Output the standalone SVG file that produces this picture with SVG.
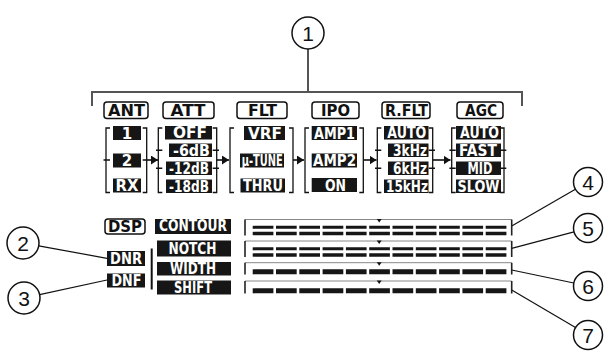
<svg xmlns="http://www.w3.org/2000/svg" width="605" height="352" viewBox="0 0 605 352">
<defs>
<style>
text{font-family:"DejaVu Sans","Liberation Sans",Arial,sans-serif;font-weight:bold}
.tab rect{fill:#fff;stroke:#111;stroke-width:1.5}
.tab text{font-size:16px;fill:#111;text-anchor:middle}
.bx rect{fill:#161616}
.bx text{font-size:15px;fill:#fff}
.br{fill:none;stroke:#111;stroke-width:1.3}
.ld{fill:none;stroke:#111;stroke-width:1.2}
.ar{fill:none;stroke:#111;stroke-width:1.6}
.gl{fill:none;stroke:#555;stroke-width:2}
.ci circle{fill:#fff;stroke:#111;stroke-width:1.5}
.ci text{font-family:"Liberation Sans",Arial,sans-serif;font-weight:normal;font-size:21px;fill:#111;text-anchor:middle}
.bar .tl{stroke:#888;stroke-width:1;fill:none}
.bar .vl{stroke:#222;stroke-width:1.6;fill:none}
.bar .d{stroke:#161616;stroke-dasharray:20.7 2.6;fill:none}
.tri{fill:#111}
</style>
<marker id="ah" markerUnits="userSpaceOnUse" markerWidth="8" markerHeight="10" refX="7" refY="4.5" orient="auto">
<path d="M0,0 L7,4.5 L0,9 z" fill="#111"/>
</marker>
</defs>
<rect width="605" height="352" fill="#fff"/>

<g id="connectors">
<path class="gl" d="M308,49 V92 M92,106 V92 H522 V106"/>
<line class="ar" x1="146.7" y1="160" x2="158" y2="160" marker-end="url(#ah)"/>
<line class="ar" x1="216.7" y1="160" x2="229" y2="160" marker-end="url(#ah)"/>
<line class="ar" x1="293" y1="160" x2="304" y2="160" marker-end="url(#ah)"/>
<line class="ar" x1="363.3" y1="160" x2="376.5" y2="160" marker-end="url(#ah)"/>
<line class="ar" x1="432.7" y1="160" x2="450.5" y2="160" marker-end="url(#ah)"/>
<line class="ld" x1="38.7" y1="245.9" x2="107" y2="258.3"/>
<line class="ld" x1="39.6" y1="294.6" x2="107" y2="280"/>
<line class="ld" x1="511.7" y1="226" x2="575.4" y2="189.3"/>
<line class="ld" x1="511.7" y1="248.3" x2="574" y2="231.9"/>
<line class="ld" x1="511.7" y1="270" x2="573.8" y2="283"/>
<line class="ld" x1="511.7" y1="290" x2="575.5" y2="327.6"/>
<line x1="151.7" y1="248.5" x2="151.7" y2="289.5" stroke="#111" stroke-width="2"/>
</g>

<g id="callout1" class="ci"><circle cx="308" cy="33" r="16"/><text x="308" y="40.5">1</text></g>
<g id="callout2" class="ci"><circle cx="23" cy="243" r="16"/><text x="23" y="250.5">2</text></g>
<g id="callout3" class="ci"><circle cx="24" cy="298" r="16"/><text x="24" y="305.5">3</text></g>
<g id="callout4" class="ci"><circle cx="588" cy="182" r="14.5"/><text x="588" y="189.5">4</text></g>
<g id="callout5" class="ci"><circle cx="588" cy="228" r="14.5"/><text x="588" y="235.5">5</text></g>
<g id="callout6" class="ci"><circle cx="588" cy="286" r="14.5"/><text x="588" y="293.5">6</text></g>
<g id="callout7" class="ci"><circle cx="588" cy="335" r="14.5"/><text x="588" y="342.5">7</text></g>

<g id="col-ant">
<g class="tab"><rect x="104" y="102" width="44" height="16.5" rx="3"/><text x="126.5" y="116.4" textLength="37" lengthAdjust="spacingAndGlyphs">ANT</text></g>
<path class="br" d="M110,128 H106 V192.5 H110 M103.5,160 H110 M142.7,128 H146.7 V192.5 H142.7 M142.7,160 H146.7"/>
<g class="bx">
<rect x="113" y="126" width="28" height="14"/><text x="127" y="138.5" text-anchor="middle">1</text>
<rect x="113" y="153.5" width="28" height="14"/><text x="127" y="166" text-anchor="middle">2</text>
<rect x="113" y="178.5" width="28" height="14"/><text x="127" y="191" text-anchor="middle" textLength="23" lengthAdjust="spacingAndGlyphs">RX</text>
</g>
</g>

<g id="col-att">
<g class="tab"><rect x="163" y="102" width="51" height="16.5" rx="3"/><text x="188" y="116.4" textLength="35" lengthAdjust="spacingAndGlyphs">ATT</text></g>
<path class="br" d="M162.3,128 H158.3 V192.5 H162.3 M156,150.25 H162.3 M156,168.25 H162.3 M212.7,128 H216.7 V192.5 H212.7 M212.7,150.25 H219 M212.7,168.25 H219"/>
<g class="bx">
<rect x="165" y="126" width="47" height="13.5"/><text x="173" y="138.2" textLength="34" lengthAdjust="spacingAndGlyphs">OFF</text>
<rect x="169" y="143.5" width="43" height="13.5"/><text x="173" y="155.7" textLength="37" lengthAdjust="spacingAndGlyphs">-6dB</text>
<rect x="166" y="161.5" width="46" height="13.5"/><text x="169" y="173.7" textLength="40" lengthAdjust="spacingAndGlyphs">-12dB</text>
<rect x="166" y="179.5" width="46" height="13.5"/><text x="169" y="191.7" textLength="40" lengthAdjust="spacingAndGlyphs">-18dB</text>
</g>
</g>

<g id="col-flt">
<g class="tab"><rect x="237" y="102" width="50" height="16.5" rx="3"/><text x="262.5" y="116.4" textLength="29" lengthAdjust="spacingAndGlyphs">FLT</text></g>
<path class="br" d="M234,128 H230 V192.5 H234 M289,128 H293 V192.5 H289"/>
<g class="bx">
<rect x="244" y="126" width="41" height="14"/><text x="248" y="138.5" textLength="34" lengthAdjust="spacingAndGlyphs">VRF</text>
<rect x="240" y="153.5" width="44" height="14"/><text x="241.7" y="165.6" font-size="14" textLength="41" lengthAdjust="spacingAndGlyphs">μ-TUNE</text>
<rect x="240.5" y="178.5" width="44.5" height="14"/><text x="243" y="191" textLength="40" lengthAdjust="spacingAndGlyphs">THRU</text>
</g>
</g>

<g id="col-ipo">
<g class="tab"><rect x="312" y="102" width="47" height="16.5" rx="3"/><text x="335.5" y="116.4" textLength="29" lengthAdjust="spacingAndGlyphs">IPO</text></g>
<path class="br" d="M309,128 H305 V192.5 H309 M359.3,128 H363.3 V192.5 H359.3"/>
<g class="bx">
<rect x="311.7" y="126" width="45.3" height="14"/><text x="314" y="138.5" textLength="41" lengthAdjust="spacingAndGlyphs">AMP1</text>
<rect x="311.7" y="153.5" width="45.3" height="14"/><text x="313" y="166" textLength="43" lengthAdjust="spacingAndGlyphs">AMP2</text>
<rect x="311.7" y="178" width="45.3" height="14"/><text x="335.5" y="190.5" text-anchor="middle" textLength="21" lengthAdjust="spacingAndGlyphs">ON</text>
</g>
</g>

<g id="col-rflt">
<g class="tab"><rect x="382" y="102" width="48" height="16.5" rx="3"/><text x="406.5" y="116.4" textLength="43" lengthAdjust="spacingAndGlyphs">R.FLT</text></g>
<path class="br" d="M381.3,128 H377.3 V192.5 H381.3 M375,150.25 H381.3 M375,168.25 H381.3 M428.7,128 H432.7 V192.5 H428.7 M428.7,150.25 H435 M428.7,168.25 H435"/>
<g class="bx">
<rect x="384" y="126" width="44.5" height="13.5"/><text x="387.3" y="138.2" textLength="39" lengthAdjust="spacingAndGlyphs">AUTO</text>
<rect x="388" y="143.5" width="40.5" height="13.5"/><text x="393" y="155.7" textLength="34" lengthAdjust="spacingAndGlyphs">3kHz</text>
<rect x="388" y="161.5" width="40.5" height="13.5"/><text x="393" y="173.7" textLength="34" lengthAdjust="spacingAndGlyphs">6kHz</text>
<rect x="384" y="179.5" width="44.5" height="13.5"/><text x="386" y="191.7" textLength="42" lengthAdjust="spacingAndGlyphs">15kHz</text>
</g>
</g>

<g id="col-agc">
<g class="tab"><rect x="457" y="102" width="46" height="16.5" rx="3"/><text x="481" y="116.4" textLength="32" lengthAdjust="spacingAndGlyphs">AGC</text></g>
<path class="br" d="M455.7,128 H451.7 V192.5 H455.7 M449.4,150.25 H455.7 M449.4,168.25 H455.7 M500,128 H504 V192.5 H500 M500,150.25 H506.3 M500,168.25 H506.3"/>
<g class="bx">
<rect x="456" y="126" width="45" height="13.5"/><text x="460" y="138.2" textLength="39" lengthAdjust="spacingAndGlyphs">AUTO</text>
<rect x="456" y="143.5" width="45" height="13.5"/><text x="459" y="155.7" textLength="38" lengthAdjust="spacingAndGlyphs">FAST</text>
<rect x="456" y="161.5" width="45" height="13.5"/><text x="480" y="173.7" text-anchor="middle" textLength="25" lengthAdjust="spacingAndGlyphs">MID</text>
<rect x="456" y="179.5" width="45" height="13.5"/><text x="457.5" y="191.7" textLength="42" lengthAdjust="spacingAndGlyphs">SLOW</text>
</g>
</g>

<g id="dsp" class="tab"><rect x="105" y="219" width="40" height="15" rx="3"/><text x="125" y="232" font-size="15" textLength="34" lengthAdjust="spacingAndGlyphs">DSP</text></g>
<g id="dnr" class="bx"><rect x="107" y="251" width="38" height="15"/><text x="110" y="264" textLength="32" lengthAdjust="spacingAndGlyphs">DNR</text></g>
<g id="dnf" class="bx"><rect x="107" y="273.5" width="38" height="14"/><text x="111.5" y="286" textLength="30" lengthAdjust="spacingAndGlyphs">DNF</text></g>

<g id="contour" class="bx"><rect x="155" y="219" width="76" height="15"/><text x="159" y="231.2" font-size="12.5" textLength="68" lengthAdjust="spacingAndGlyphs">CONTOUR</text></g>
<g id="notch" class="bx"><rect x="157" y="240.5" width="74" height="16"/><text x="168.5" y="254" textLength="48" lengthAdjust="spacingAndGlyphs">NOTCH</text></g>
<g id="width" class="bx"><rect x="157" y="262" width="74" height="13.5"/><text x="170" y="274.2" textLength="46" lengthAdjust="spacingAndGlyphs">WIDTH</text></g>
<g id="shift" class="bx"><rect x="157" y="280.5" width="74" height="14"/><text x="174" y="293" textLength="38" lengthAdjust="spacingAndGlyphs">SHIFT</text></g>

<g id="bar-contour" class="bar">
<path class="tl" d="M245,219.5 H511.7"/><path class="tri" d="M376.7,219 H381.7 L379.2,222.5 z"/>
<path class="vl" d="M245,219.5 V235.5 M511.7,219.5 V235.5"/>
<path class="d" stroke-width="3" d="M252.7,227.3 H506.4"/><path class="d" stroke-width="3.4" d="M252.7,233.5 H506.4"/>
</g>
<g id="bar-notch" class="bar">
<path class="tl" d="M245,241 H511.7"/><path class="tri" d="M376.7,240.5 H381.7 L379.2,244 z"/>
<path class="vl" d="M245,241 V257 M511.7,241 V257"/>
<path class="d" stroke-width="3" d="M252.7,248.8 H506.4"/><path class="d" stroke-width="3.4" d="M252.7,255 H506.4"/>
</g>
<g id="bar-width" class="bar">
<path class="tl" d="M245,262.7 H511.7"/><path class="tri" d="M376.7,262.2 H381.7 L379.2,265.7 z"/>
<path class="vl" d="M245,262.7 V274.5 M511.7,262.7 V274.5"/>
<path class="d" stroke-width="5" d="M252.7,271.8 H506.4"/>
</g>
<g id="bar-shift" class="bar">
<path class="tl" d="M245,281 H511.7"/><path class="tri" d="M376.7,280.5 H381.7 L379.2,284 z"/>
<path class="vl" d="M245,281 V293.5 M511.7,281 V293.5"/>
<path class="d" stroke-width="5" d="M252.7,290.8 H506.4"/>
</g>
</svg>
